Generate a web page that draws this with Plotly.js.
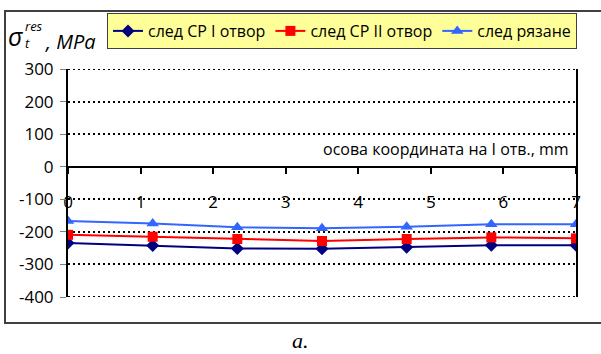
<!DOCTYPE html>
<html><head><meta charset="utf-8">
<script src="https://cdn.plot.ly/plotly-3.0.1.min.js"></script>
<style>html,body{margin:0;padding:0;background:#fff}#c{width:601px;height:354px}</style>
</head><body><div id="c"></div>
<script>
const xPos = [0, 1.167, 2.333, 3.5, 4.667, 5.833, 7];
const seriesNames = ['след СР I отвор', 'след СР II отвор', 'след рязане'];
const sCP1 = [-234, -242, -251, -252, -247, -241, -241];
const sCP2 = [-209, -215, -222, -228, -222, -217, -220];
const sCut = [-167, -174, -186, -189, -184, -177, -177];
const yTicks = [-400, -300, -200, -100, 0, 100, 200, 300];
const xTicks = [0, 1, 2, 3, 4, 5, 6, 7];

const W = 601, H = 354, L = 68, R = 576, T = 69, B = 297;
const px = v => (v - L) / (R - L);
const py = v => (B - v) / (B - T);
const font = 'Open Sans, Noto Sans, sans-serif';

const traces = [
  {x: xPos, y: sCP1, name: seriesNames[0], mode: 'lines+markers',
   line: {color: '#000080', width: 2}, marker: {symbol: 'diamond', size: 10, color: '#000080'}},
  {x: xPos, y: sCP2, name: seriesNames[1], mode: 'lines+markers',
   line: {color: '#FF0000', width: 2}, marker: {symbol: 'square', size: 10, color: '#FF0000'}},
  {x: xPos, y: sCut, name: seriesNames[2], mode: 'lines+markers',
   line: {color: '#3366FF', width: 2}, marker: {symbol: 'triangle-up', size: 11, color: '#3366FF'}}
];

const layout = {
  width: W, height: H,
  margin: {l: L, r: W - R, t: T, b: H - B, pad: 0},
  paper_bgcolor: '#fff', plot_bgcolor: '#fff',
  font: {family: font, size: 16, color: '#000'},
  showlegend: true,
  legend: {orientation: 'h', x: px(107), y: py(13), xanchor: 'left', yanchor: 'top',
    bgcolor: '#FFFF99', bordercolor: '#404040', borderwidth: 1,
    font: {family: font, size: 16, color: '#000'}, itemwidth: 30, tracegroupgap: 0},
  xaxis: {range: [0, 7], tickvals: xTicks, ticktext: xTicks.map(String),
    anchor: 'free', position: 4 / 7, showline: true, linecolor: '#000', linewidth: 2,
    ticks: 'outside', ticklen: 6, tickwidth: 2, tickcolor: '#000',
    showgrid: false, zeroline: false, ticklabelstandoff: 14,
    tickfont: {family: font, size: 17, color: '#000'}},
  yaxis: {range: [-400, 300], tickvals: yTicks, ticktext: yTicks.map(String),
    showline: true, mirror: true, linecolor: '#000', linewidth: 2,
    ticks: 'outside', ticklen: 6, tickwidth: 1, tickcolor: '#808080',
    showgrid: true, gridcolor: '#000', gridwidth: 2, griddash: '2px,3px',
    zeroline: false, ticklabelstandoff: 3,
    tickfont: {family: font, size: 17, color: '#000'}},
  shapes: [
    {type: 'rect', xref: 'paper', yref: 'paper', x0: px(5), x1: px(640), y0: py(323), y1: py(11),
     line: {color: '#404040', width: 2}, fillcolor: 'rgba(0,0,0,0)', layer: 'below'},
    {type: 'line', xref: 'paper', yref: 'y', x0: 0, x1: 1, y0: 300, y1: 300,
     line: {color: '#000', width: 2, dash: '2px,3px'}},
    {type: 'line', xref: 'paper', yref: 'y', x0: 0, x1: 1, y0: -400, y1: -400,
     line: {color: '#000', width: 2, dash: '2px,3px'}}
  ],
  annotations: [
    {xref: 'paper', yref: 'paper', x: px(571), y: py(149), xanchor: 'right', yanchor: 'middle',
     text: 'осова координата на I отв., mm', showarrow: false,
     font: {family: font, size: 16, color: '#000'}},
    {xref: 'paper', yref: 'paper', x: px(6), y: py(36), xanchor: 'left', yanchor: 'middle',
     text: '<i>σ</i>', showarrow: false, font: {family: font, size: 25, color: '#000'}},
    {xref: 'paper', yref: 'paper', x: px(23), y: py(26), xanchor: 'left', yanchor: 'middle',
     text: '<i>res</i>', showarrow: false, font: {family: font, size: 13, color: '#000'}},
    {xref: 'paper', yref: 'paper', x: px(23), y: py(43), xanchor: 'left', yanchor: 'middle',
     text: '<i>t</i>', showarrow: false, font: {family: font, size: 13, color: '#000'}},
    {xref: 'paper', yref: 'paper', x: px(43), y: py(41), xanchor: 'left', yanchor: 'middle',
     text: '<i>, MPa</i>', showarrow: false, font: {family: font, size: 20, color: '#000'}},
    {xref: 'paper', yref: 'paper', x: px(300), y: py(340), xanchor: 'center', yanchor: 'middle',
     text: '<i>a.</i>', showarrow: false, font: {family: 'Liberation Serif, serif', size: 22, color: '#000'}}
  ]
};
Plotly.newPlot('c', traces, layout, {displayModeBar: false, staticPlot: true});
</script></body></html>
